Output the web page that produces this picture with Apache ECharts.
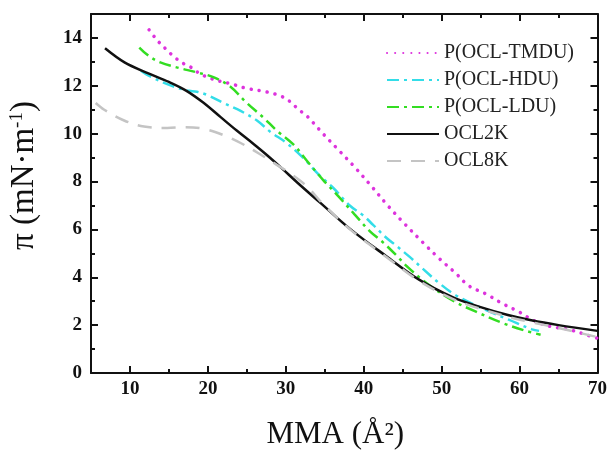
<!DOCTYPE html>
<html>
<head>
<meta charset="utf-8">
<script src="https://cdn.jsdelivr.net/npm/echarts@6/dist/echarts.min.js"></script>
<style>
  html, body { margin: 0; padding: 0; background: #fff; }
  #chart { width: 610px; height: 455px; }
</style>
</head>
<body>
<div id="chart"></div>
<script>
// Surface pressure isotherms: pi vs mean molecular area
const seriesNames = ['P(OCL-TMDU)', 'P(OCL-HDU)', 'P(OCL-LDU)', 'OCL2K', 'OCL8K'];

const tmduX = [12.45, 13.5, 14.6, 15.6, 16.7, 17.8, 19.05, 20.3, 21.2, 22.9, 25.0, 27.6, 29.3, 30.5, 31.6, 32.9, 33.7, 34.8, 36.7, 38.85, 41.0, 43.1, 45.2, 47.6, 49.7, 51.8, 53.5, 55.7, 57.8, 59.9, 61.6, 63.75, 66.3, 69.3, 70.0];
const tmduY = [14.34, 13.9, 13.54, 13.23, 12.96, 12.78, 12.49, 12.32, 12.22, 12.09, 11.89, 11.74, 11.58, 11.35, 11.02, 10.68, 10.39, 9.99, 9.34, 8.6, 7.8, 6.99, 6.25, 5.45, 4.78, 4.17, 3.64, 3.3, 2.9, 2.56, 2.23, 1.96, 1.82, 1.52, 1.45];

const hduX = [11.4, 12.66, 15.2, 17.35, 18.6, 19.9, 22.0, 24.2, 26.3, 28.0, 30.1, 32.2, 34.2, 36.1, 38.2, 39.9, 41.2, 42.9, 44.2, 45.9, 47.6, 49.7, 51.8, 55.2, 58.6, 61.6, 62.5];
const hduY = [12.63, 12.38, 12.02, 11.8, 11.75, 11.62, 11.28, 10.95, 10.55, 10.08, 9.61, 9.0, 8.3, 7.73, 7.0, 6.59, 6.19, 5.65, 5.31, 4.85, 4.35, 3.75, 3.25, 2.7, 2.23, 1.82, 1.76];

const lduX = [11.2, 12.4, 13.9, 16.1, 18.6, 20.7, 22.9, 25.0, 27.1, 28.8, 31.0, 32.7, 34.8, 36.7, 38.85, 40.8, 42.5, 44.2, 45.6, 48.0, 51.4, 54.4, 57.8, 60.8, 62.7];
const lduY = [13.6, 13.25, 12.98, 12.76, 12.56, 12.36, 11.96, 11.28, 10.68, 10.14, 9.54, 8.87, 8.06, 7.4, 6.62, 5.92, 5.45, 4.91, 4.44, 3.77, 3.03, 2.56, 2.09, 1.76, 1.6];

const ocl2kX = [6.8, 9.3, 12.2, 15.0, 17.2, 19.4, 21.6, 23.7, 25.9, 27.6, 29.5, 31.5, 34.4, 38.4, 42.9, 47.1, 51.4, 55.0, 58.5, 61.5, 65.0, 70.0];
const ocl2kY = [13.57, 12.98, 12.54, 12.16, 11.8, 11.3, 10.7, 10.13, 9.56, 9.1, 8.55, 7.95, 7.12, 5.98, 4.88, 3.9, 3.17, 2.75, 2.42, 2.2, 2.0, 1.76];

const ocl8kX = [5.6, 6.7, 9.25, 11.8, 14.8, 17.0, 19.5, 22.0, 24.2, 26.7, 28.6, 30.5, 32.7, 34.6, 38.4, 42.9, 47.1, 51.4, 55.0, 58.5, 61.5, 65.0, 70.0];
const ocl8kY = [11.28, 11.0, 10.55, 10.3, 10.24, 10.27, 10.2, 9.94, 9.61, 9.14, 8.75, 8.35, 7.8, 7.12, 5.96, 4.85, 3.85, 3.1, 2.68, 2.35, 2.12, 1.88, 1.5];

// Tick positions
const xMajorTicks = [10, 20, 30, 40, 50, 60, 70];
const xMinorTicks = [15, 25, 35, 45, 55, 65];
const yMajorTicks = [0, 2, 4, 6, 8, 10, 12, 14];
const yMinorTicks = [1, 3, 5, 7, 9, 11, 13];

function zip(xs, ys) { return xs.map((x, i) => [x, ys[i]]); }

const serif = 'Liberation Serif';
const axisColor = '#111';

function xAxisDef(position, ticks, len, showLine, showLabels) {
  return {
    type: 'value', min: 5, max: 70, position: position,
    axisLine: { show: showLine, onZero: false, lineStyle: { color: axisColor, width: 2 } },
    axisTick: { show: true, inside: true, length: len, customValues: ticks, lineStyle: { color: axisColor, width: 2 } },
    axisLabel: showLabels ? {
      show: true, customValues: xMajorTicks, margin: 7,
      fontFamily: serif, fontWeight: 'bold', fontSize: 19, color: '#111'
    } : { show: false },
    splitLine: { show: false }
  };
}
function yAxisDef(position, ticks, len, showLine, showLabels) {
  return {
    type: 'value', min: 0, max: 15, position: position,
    axisLine: { show: showLine, onZero: false, lineStyle: { color: axisColor, width: 2 } },
    axisTick: { show: true, inside: true, length: len, customValues: ticks, lineStyle: { color: axisColor, width: 2 } },
    axisLabel: showLabels ? {
      show: true, customValues: yMajorTicks, margin: 9,
      fontFamily: serif, fontWeight: 'bold', fontSize: 19, color: '#111'
    } : { show: false },
    splitLine: { show: false }
  };
}

const xAxes = [
  xAxisDef('bottom', xMajorTicks, 7, true, true),
  xAxisDef('bottom', xMinorTicks, 4, false, false),
  xAxisDef('top', xMajorTicks, 7, true, false),
  xAxisDef('top', xMinorTicks, 4, false, false)
];
xAxes[0].name = 'MMA (Å²)';
xAxes[0].nameLocation = 'middle';
xAxes[0].nameGap = 46;
xAxes[0].nameTextStyle = { fontFamily: serif, fontSize: 31, color: '#111', padding: [0, 18, 0, 0] };

const yAxes = [
  yAxisDef('left', yMajorTicks, 7, true, true),
  yAxisDef('left', yMinorTicks, 4, false, false),
  yAxisDef('right', yMajorTicks, 7, true, false),
  yAxisDef('right', yMinorTicks, 4, false, false)
];
yAxes[0].name = '{t|π (mN·m}{s|-1}{t|)}';
yAxes[0].nameLocation = 'middle';
yAxes[0].nameRotate = 90;
yAxes[0].nameGap = 50;
yAxes[0].nameTextStyle = {
  padding: [0, 0, 0, 36],
  rich: {
    t: { fontFamily: serif, fontSize: 33, color: '#111' },
    s: { fontFamily: serif, fontSize: 19, color: '#111', verticalAlign: 'top', padding: [0, 0, 14, 0] }
  }
};

const palette = {
  tmdu: '#dd33dd',
  hdu: '#33dde8',
  ldu: '#33dd22',
  ocl2k: '#111111',
  ocl8k: '#c4c4c4'
};

function lineSeries(name, data, color, style) {
  return {
    name: name, type: 'line', data: data, symbol: 'none', smooth: 0.35,
    xAxisIndex: 0, yAxisIndex: 0,
    lineStyle: Object.assign({ color: color, width: 2.5 }, style),
    itemStyle: { color: color },
    z: 3
  };
}

const chart = echarts.init(document.getElementById('chart'), null, { renderer: 'canvas' });
chart.setOption({
  animation: false,
  backgroundColor: '#fff',
  grid: { left: 90, right: 12, top: 14, bottom: 68 },
  legend: {
    data: seriesNames,
    orient: 'vertical',
    left: 381, top: 38,
    itemWidth: 52, itemHeight: 14, itemGap: 7,
    itemStyle: { opacity: 0 },
    textStyle: { fontFamily: serif, fontSize: 20, color: '#222' }
  },
  xAxis: xAxes,
  yAxis: yAxes,
  series: [
    lineSeries(seriesNames[0], zip(tmduX, tmduY), palette.tmdu, { type: [0.1, 8], cap: 'round', width: 3.5 }),
    lineSeries(seriesNames[1], zip(hduX, hduY), palette.hdu, { type: [12, 5, 3, 5] }),
    lineSeries(seriesNames[2], zip(lduX, lduY), palette.ldu, { type: [12, 5, 3, 5] }),
    lineSeries(seriesNames[3], zip(ocl2kX, ocl2kY), palette.ocl2k, { type: 'solid' }),
    lineSeries(seriesNames[4], zip(ocl8kX, ocl8kY), palette.ocl8k, { type: [14, 10] })
  ]
});
</script>
</body>
</html>
